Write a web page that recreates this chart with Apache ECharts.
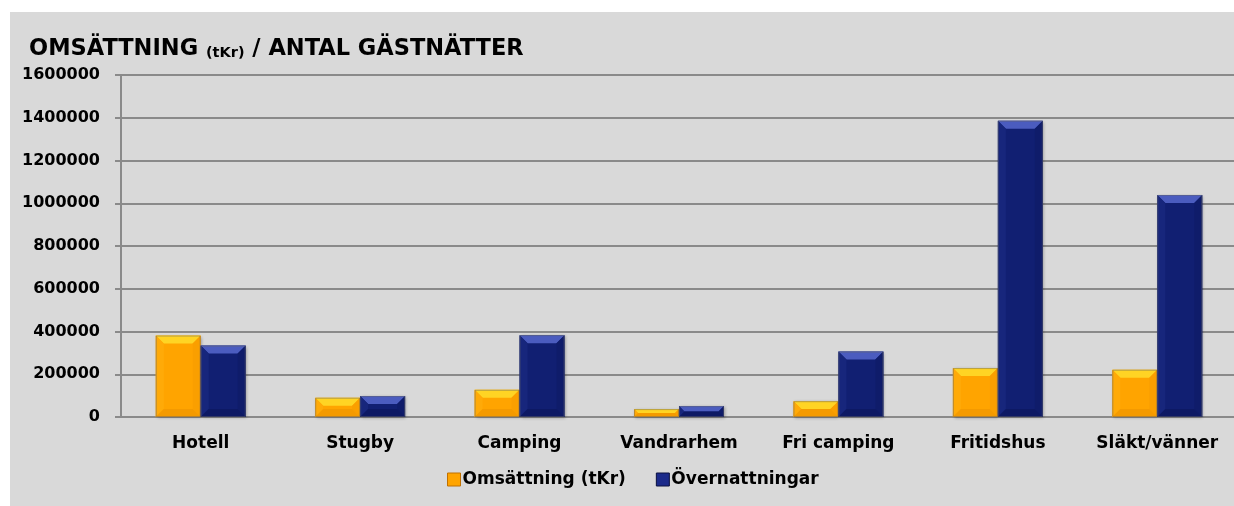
<!DOCTYPE html>
<html>
<head>
<meta charset="utf-8">
<script src="https://cdn.jsdelivr.net/npm/echarts@6/dist/echarts.min.js"></script>
<style>
html,body{margin:0;padding:0;background:#fff;}
#bg{position:absolute;left:10px;top:12px;width:1224px;height:494px;background:#d9d9d9;}
#chart{position:absolute;left:0;top:0;width:1234px;height:506px;}
</style>
</head>
<body>
<div id="bg"></div>
<div id="chart"></div>
<script>
const categories = ['Hotell','Stugby','Camping','Vandrarhem','Fri camping','Fritidshus','Släkt/vänner'];
const omsattning = [381000, 90000, 127000, 37000, 74000, 229000, 221000];
const overnattningar = [334000, 98000, 383000, 51000, 306000, 1386000, 1039000];
const yTicks = [0, 200000, 400000, 600000, 800000, 1000000, 1200000, 1400000, 1600000];

const FONT = 'DejaVu Sans';
const palettes = [
  {main:'#FFA400', top:'#FFD424', left:'#FFAA08', right:'#FA9F00', bottom:'#F49A00'},
  {main:'#111F72', top:'#4B5CBF', left:'#17267C', right:'#0F1C6A', bottom:'#0D1964'}
];

function makeRender(si){
  const p = palettes[si];
  return function(params, api){
    const cat = api.value(0), v = api.value(1);
    const base = api.coord([cat, 0]);
    const top = api.coord([cat, v]);
    const catW = api.size([1, 0])[0];
    const bw = catW * 0.282;
    const x0 = si === 0 ? base[0] - bw : base[0];
    const x1 = x0 + bw;
    const y0 = top[1], y1 = base[1];
    const h = y1 - y0;
    const b = Math.min(8, h / 2, bw / 2);
    return {
      type: 'group',
      children: [
        {type:'rect', shape:{x:x0, y:y0, width:bw, height:h},
         style:{fill:p.main, shadowBlur:3, shadowColor:'rgba(0,0,0,0.3)', shadowOffsetX:1, shadowOffsetY:1}},
        {type:'polygon', shape:{points:[[x0,y0],[x1,y0],[x1-b,y0+b],[x0+b,y0+b]]}, style:{fill:p.top}},
        {type:'polygon', shape:{points:[[x0,y0],[x0+b,y0+b],[x0+b,y1-b],[x0,y1]]}, style:{fill:p.left}},
        {type:'polygon', shape:{points:[[x1,y0],[x1-b,y0+b],[x1-b,y1-b],[x1,y1]]}, style:{fill:p.right}},
        {type:'polygon', shape:{points:[[x0,y1],[x1,y1],[x1-b,y1-b],[x0+b,y1-b]]}, style:{fill:p.bottom}},
        {type:'rect', shape:{x:x0+0.5, y:y0+0.5, width:bw-1, height:h-1}, style:{fill:'none', stroke:'rgba(100,100,100,0.45)', lineWidth:1}}
      ]
    };
  };
}

const chart = echarts.init(document.getElementById('chart'), null, {renderer:'canvas'});
chart.setOption({
  backgroundColor: 'transparent',
  animation: false,
  title: {
    text: '{a|OMSÄTTNING }{b|(tKr)}{a| / ANTAL GÄSTNÄTTER}',
    left: 24, top: 33,
    textStyle: {
      rich: {
        a: {fontFamily: FONT, fontWeight: 'bold', fontSize: 22.5, color: '#000'},
        b: {fontFamily: FONT, fontWeight: 'bold', fontSize: 14.5, color: '#000', verticalAlign:'bottom'}
      }
    }
  },
  legend: {
    bottom: 13, left: 442,
    icon: 'rect', itemWidth: 13, itemHeight: 13, itemGap: 30,
    textStyle: {fontFamily: FONT, fontWeight: 'bold', fontSize: 17, color: '#000', padding:[0,0,0,-3]},
    data: [
      {name:'Omsättning (tKr)', itemStyle:{color:'#FFA400', borderColor:'#c07000', borderWidth:1}},
      {name:'Övernattningar', itemStyle:{color:'#1B2A8A', borderColor:'#0a1040', borderWidth:1}}
    ]
  },
  grid: {left: 121, top: 75, width: 1116, height: 342, outerBoundsMode: 'none', containLabel: false},
  xAxis: {
    type: 'category', data: categories,
    axisLine: {show: true, lineStyle: {color: '#8a8a8a', width: 2}},
    axisTick: {show: false},
    axisLabel: {fontFamily: FONT, fontWeight: 'bold', fontSize: 17, color: '#000', margin: 18, interval: 0}
  },
  yAxis: {
    type: 'value', min: yTicks[0], max: yTicks[yTicks.length-1], interval: yTicks[1]-yTicks[0],
    axisLine: {show: true, lineStyle: {color: '#8a8a8a', width: 2}},
    axisTick: {show: true, length: 6, lineStyle: {color: '#8a8a8a', width: 2}},
    splitLine: {show: true, lineStyle: {color: '#8a8a8a', width: 2}},
    axisLabel: {fontFamily: FONT, fontWeight: 'bold', fontSize: 16, color: '#000', margin: 21,
      formatter: function(v){ return String(v); }}
  },
  series: [
    {name:'Omsättning (tKr)', type:'custom', renderItem: makeRender(0), itemStyle:{color:'#FFA400'},
     encode:{x:0, y:1}, data: categories.map((c,i)=>[i, omsattning[i]])},
    {name:'Övernattningar', type:'custom', renderItem: makeRender(1), itemStyle:{color:'#111F72'},
     encode:{x:0, y:1}, data: categories.map((c,i)=>[i, overnattningar[i]])}
  ]
});
</script>
</body>
</html>
